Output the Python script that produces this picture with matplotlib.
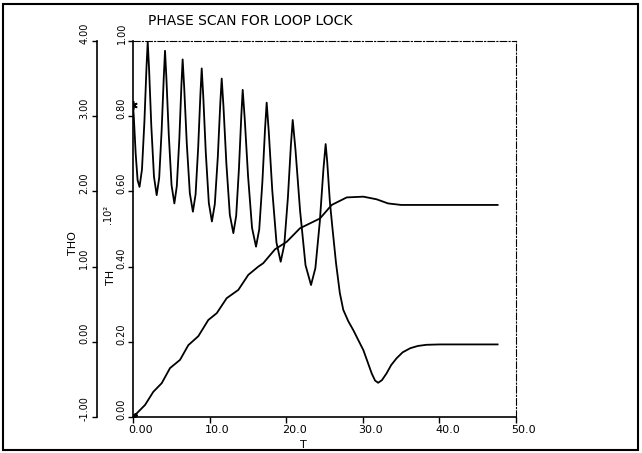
import matplotlib
matplotlib.use("Agg")
import matplotlib.pyplot as plt
import matplotlib.transforms as mtransforms
from matplotlib.patches import Rectangle

# ---------------- data ----------------
osc_t = [0.0, 0.1, 0.35, 0.6, 0.85,
         1.17, 1.49, 1.76, 1.92,
         2.10, 2.39, 2.74, 3.09,
         3.42, 3.74, 4.02, 4.18,
         4.36, 4.67, 5.03, 5.40,
         5.72, 6.05, 6.32, 6.48,
         6.68, 7.02, 7.42, 7.82,
         8.17, 8.51, 8.80, 8.97,
         9.17, 9.50, 9.90, 10.30,
         10.68, 11.07, 11.39, 11.58,
         11.81, 12.19, 12.64, 13.10,
         13.47, 13.83, 14.14, 14.32,
         14.58, 15.02, 15.54, 16.06,
         16.48, 16.89, 17.24, 17.45,
         17.72, 18.18, 18.73, 19.28,
         19.75, 20.22, 20.61, 20.85,
         21.21, 21.81, 22.52, 23.24,
         23.81, 24.39, 24.86, 25.15,
         25.35, 25.7, 26.0, 26.5, 27.0, 27.45, 28.1, 28.76, 29.4, 30.07,
         30.6, 31.16, 31.6, 32.0, 32.5, 33.1, 33.7, 34.4, 35.2, 36.2,
         37.2, 38.3, 40.0, 47.6]
osc_v = [0.83, 0.80, 0.70, 0.63, 0.612,
         0.658, 0.786, 0.929, 0.998,
         0.925, 0.774, 0.639, 0.590,
         0.636, 0.763, 0.905, 0.974,
         0.901, 0.751, 0.617, 0.568,
         0.614, 0.740, 0.882, 0.951,
         0.878, 0.728, 0.595, 0.546,
         0.592, 0.717, 0.858, 0.927,
         0.854, 0.704, 0.569, 0.520,
         0.566, 0.691, 0.832, 0.900,
         0.826, 0.674, 0.538, 0.489,
         0.535, 0.660, 0.801, 0.870,
         0.795, 0.641, 0.503, 0.453,
         0.499, 0.625, 0.767, 0.836,
         0.760, 0.603, 0.464, 0.413,
         0.458, 0.583, 0.722, 0.790,
         0.711, 0.549, 0.404, 0.351,
         0.396, 0.520, 0.659, 0.726,
         0.68, 0.573, 0.51, 0.41, 0.33, 0.285, 0.255, 0.231, 0.205, 0.178,
         0.148, 0.116, 0.097, 0.091, 0.098, 0.116, 0.138, 0.156, 0.172, 0.183,
         0.189, 0.192, 0.193, 0.193]

ramp_t = [0.0, 0.26, 1.57, 2.65, 3.75, 4.83, 6.14, 7.22, 8.53, 9.83, 10.93,
          12.23, 13.75, 15.05, 16.36, 17.0, 18.54, 20.07, 21.8, 24.41, 25.94,
          27.9, 30.07, 31.8, 33.3, 35.0, 38.8, 47.6]
ramp_v = [-1.0, -0.975, -0.84, -0.665, -0.55, -0.35, -0.24, -0.045, 0.075,
          0.29, 0.38, 0.58, 0.69, 0.89, 1.00, 1.045, 1.23, 1.33, 1.51, 1.64,
          1.82, 1.92, 1.93, 1.895, 1.84, 1.82, 1.82, 1.82]

x_ticks = [0, 10, 20, 30, 40, 50]
x_labels = ["0.00", "10.0", "20.0", "30.0", "40.0", "50.0"]
th_ticks = [0.0, 0.2, 0.4, 0.6, 0.8, 1.0]
th_labels = ["0.00", "0.20", "0.40", "0.60", "0.80", "1.00"]
tho_ticks = [-1, 0, 1, 2, 3, 4]
tho_labels = ["-1.00", "0.00", "1.00", "2.00", "3.00", "4.00"]

title = "PHASE SCAN FOR LOOP LOCK"

# ---------------- figure ----------------
W, H, DPI = 642, 453, 100
fig = plt.figure(figsize=(W / DPI, H / DPI), dpi=DPI)
plt.rcParams['font.family'] = ['DejaVu Sans']

def fx(px):
    return px / W

def fy(py):
    return 1 - py / H

left, right, top, bottom = 133, 516, 41, 417
ax = fig.add_axes([fx(left), fy(bottom), fx(right) - fx(left), fy(top) - fy(bottom)])
ax.set_xlim(0, 50)
ax.set_ylim(0, 1)

ax.plot(osc_t, osc_v, color='black', lw=1.3, solid_joinstyle='round')
ax.plot(osc_t[0], osc_v[0], marker=(6, 2, 0), color='black', ms=6, mew=1.2)

ax2 = ax.twinx()
ax2.set_ylim(-1, 4)
ax2.plot(ramp_t, ramp_v, color='black', lw=1.3, solid_joinstyle='round')
ax2.plot(ramp_t[0], ramp_v[0], marker='X', color='black', ms=6)

# spines
for a in (ax, ax2):
    a.set_facecolor('none')
ax.spines['left'].set_linewidth(1.2)
ax.spines['bottom'].set_linewidth(1.2)
for s in ('top', 'right'):
    ax.spines[s].set_linestyle((0, (6, 2, 1, 2)))
    ax.spines[s].set_linewidth(0.8)
for s in ('top', 'right', 'bottom'):
    ax2.spines[s].set_visible(False)
ax2.spines['left'].set_visible(True)
ax2.spines['left'].set_position(('outward', (left - 97) * 72 / DPI))
ax2.spines['left'].set_linewidth(1.2)
ax2.yaxis.set_ticks_position('left')
ax2.yaxis.set_label_position('left')

# ticks
ax.set_xticks(x_ticks)
ax.set_xticklabels(x_labels, fontsize=8)
ax.tick_params(axis='x', direction='out', length=4, width=1, pad=2, top=False)
ax.set_yticks(th_ticks)
ax.set_yticklabels(th_labels, fontsize=7, rotation=90, va='center')
ax.tick_params(axis='y', direction='out', length=3.5, width=1, pad=1, right=False)
ax2.set_yticks(tho_ticks)
ax2.set_yticklabels(tho_labels, fontsize=7, rotation=90, va='center')
ax2.tick_params(axis='y', direction='out', length=3.5, width=1, pad=2, right=False)

# axis labels
fig.text(fx(73), fy(243), "THO", rotation=90, fontsize=8, ha='center', va='center')
fig.text(fx(111), fy(277), "TH", rotation=90, fontsize=8, ha='center', va='center')
fig.text(fx(108), fy(214), ".10\u00b2", rotation=90, fontsize=7, ha='center', va='center')
fig.text(fx(303), fy(445), "T", fontsize=8, ha='center', va='center')

# title
fig.text(fx(250), fy(21), title, fontsize=10, ha='center', va='center')

# outer frame
fig.patches.append(Rectangle((fx(3), fy(450)), fx(638) - fx(3), fy(4) - fy(450),
                             transform=fig.transFigure, fill=False, lw=1.5,
                             edgecolor='black'))

# label offsets (plotter-style placement)
dy = mtransforms.ScaledTranslation(0, 8 / DPI, fig.dpi_scale_trans)
for lab in ax.get_yticklabels() + ax2.get_yticklabels():
    lab.set_transform(lab.get_transform() + dy)
dx = mtransforms.ScaledTranslation(8 / DPI, 0, fig.dpi_scale_trans)
for lab in ax.get_xticklabels():
    lab.set_transform(lab.get_transform() + dx)

fig.savefig("out.png", dpi=DPI)
